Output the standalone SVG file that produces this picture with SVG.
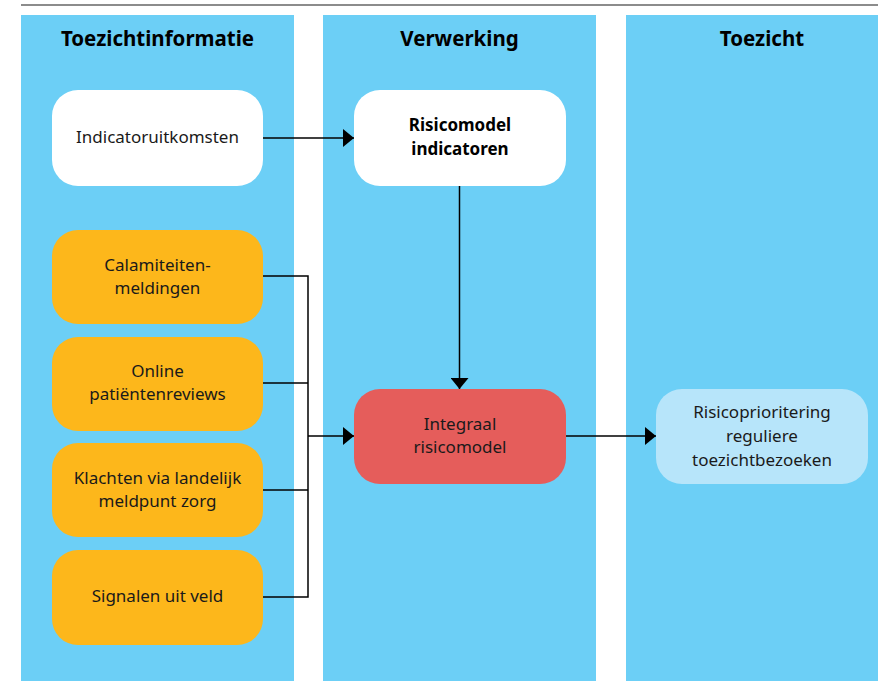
<svg xmlns="http://www.w3.org/2000/svg" width="878" height="681" viewBox="0 0 878 681">
<defs>
<marker id="arr" markerWidth="11" markerHeight="18" refX="11" refY="9" orient="auto" markerUnits="userSpaceOnUse">
<path d="M0,0 L11,9 L0,18 Z" fill="#000"/>
</marker>
<style>
.col{fill:#6CCFF6}
.hdr{font-family:"Noto Sans","Open Sans",sans-serif;font-size:20.5px;font-weight:bold;fill:#000;text-anchor:middle}
.t{font-family:"Noto Sans","Open Sans",sans-serif;font-size:17px;fill:#1a1a1a;text-anchor:middle}
.b{font-weight:bold;fill:#000}
.white{fill:#FFFFFF}
.orange{fill:#FDB71B}
.red{fill:#E55D5B}
.light{fill:#B7E5FA}
.c{fill:none;stroke:#000;stroke-width:1.5}
</style>
</defs>
<rect width="878" height="681" fill="#fff"/>
<line x1="21" y1="5" x2="878" y2="5" stroke="#666" stroke-width="1.5"/>
<g id="columns">
<rect class="col" x="21" y="15" width="273" height="666"/>
<rect class="col" x="323" y="15" width="273" height="666"/>
<rect class="col" x="626" y="15" width="273" height="666"/>
<text class="hdr" x="157.5" y="46">Toezichtinformatie</text>
<text class="hdr" x="459.5" y="46">Verwerking</text>
<text class="hdr" x="762" y="46">Toezicht</text>
</g>
<g id="connectors">
<path class="c" d="M263,138 H354" marker-end="url(#arr)"/>
<path class="c" d="M459.5,186 V389" marker-end="url(#arr)"/>
<path class="c" d="M263,276 H308 V597 H263"/>
<path class="c" d="M263,383 H308"/>
<path class="c" d="M263,490 H308"/>
<path class="c" d="M308,436 H354" marker-end="url(#arr)"/>
<path class="c" d="M566,436 H656" marker-end="url(#arr)"/>
</g>
<g id="n-indicatoruitkomsten">
<rect class="white" x="52" y="90" width="211" height="96" rx="26"/>
<text class="t" x="157.5" y="143">Indicatoruitkomsten</text>
</g>
<g id="n-risicomodel-indicatoren">
<rect class="white" x="354" y="90" width="212" height="96" rx="26"/>
<text class="t b" x="460" y="131">Risicomodel</text>
<text class="t b" x="460" y="155">indicatoren</text>
</g>
<g id="n-calamiteiten">
<rect class="orange" x="52" y="230" width="211" height="94" rx="26"/>
<text class="t" x="157.5" y="271">Calamiteiten-</text>
<text class="t" x="157.5" y="294">meldingen</text>
</g>
<g id="n-online">
<rect class="orange" x="52" y="337" width="211" height="94" rx="26"/>
<text class="t" x="157.5" y="377">Online</text>
<text class="t" x="157.5" y="400">patiëntenreviews</text>
</g>
<g id="n-klachten">
<rect class="orange" x="52" y="443" width="211" height="94" rx="26"/>
<text class="t" x="157.5" y="484">Klachten via landelijk</text>
<text class="t" x="157.5" y="507">meldpunt zorg</text>
</g>
<g id="n-signalen">
<rect class="orange" x="52" y="550" width="211" height="95" rx="26"/>
<text class="t" x="157.5" y="602">Signalen uit veld</text>
</g>
<g id="n-integraal">
<rect class="red" x="354" y="389" width="212" height="95" rx="26"/>
<text class="t" x="460" y="430">Integraal</text>
<text class="t" x="460" y="453">risicomodel</text>
</g>
<g id="n-risicoprioritering">
<rect class="light" x="656" y="389" width="212" height="95" rx="26"/>
<text class="t" x="762" y="418">Risicoprioritering</text>
<text class="t" x="762" y="442">reguliere</text>
<text class="t" x="762" y="466">toezichtbezoeken</text>
</g>
</svg>
